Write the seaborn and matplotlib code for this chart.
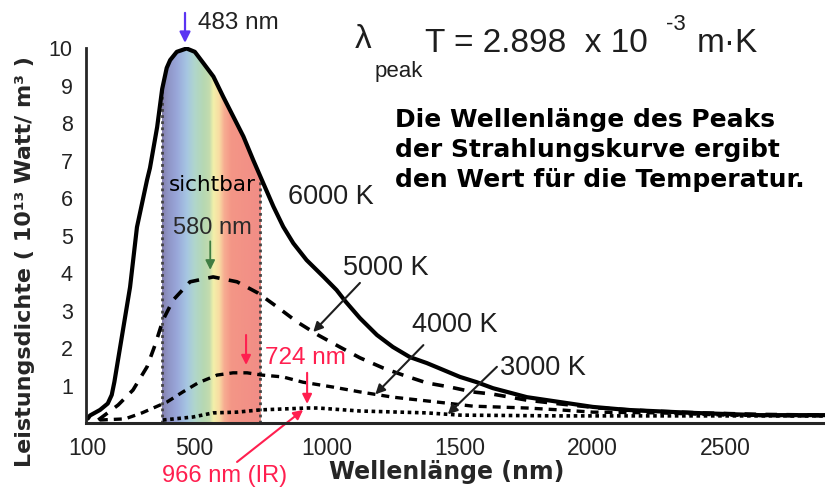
import numpy as np
import pandas as pd
import seaborn as sns
import matplotlib.pyplot as plt
from matplotlib.colors import LinearSegmentedColormap

# values (wavelength in nm, power density in 10^13 W/m^3)
wl_6000 = [100, 108, 146, 175, 190, 200, 259, 285, 323, 334, 361, 380, 397, 410, 435, 472, 503, 535, 573,
           610, 648, 686, 723, 761, 799, 836, 874, 924, 987, 1037, 1070, 1125, 1189, 1249, 1313, 1377,
           1438, 1502, 1565, 1626, 1754, 1878, 2002, 2130, 2379, 2631, 2876]
val_6000 = [0.12, 0.2, 0.35, 0.52, 0.75, 1.1, 3.63, 5.23, 6.49, 6.81, 7.9, 8.92, 9.48, 9.69, 9.91, 10.0,
            9.91, 9.61, 9.25, 8.71, 8.18, 7.65, 7.02, 6.4, 5.78, 5.24, 4.8, 4.35, 3.91, 3.55, 3.25, 2.8,
            2.35, 2.03, 1.76, 1.6, 1.42, 1.23, 1.09, 0.93, 0.69, 0.56, 0.43, 0.35, 0.27, 0.21, 0.21]

wl_5000 = [139, 214, 270, 323, 353, 383, 421, 485, 572, 662, 741, 813, 888, 967, 1049, 1125, 1212, 1287,
           1377, 1464, 1550, 1626, 1754, 1878, 2029, 2217, 2406, 2631, 2876]
val_5000 = [0.08, 0.48, 0.88, 1.5, 2.08, 2.75, 3.28, 3.77, 3.9, 3.77, 3.47, 3.1, 2.7, 2.35, 2.03, 1.74,
            1.47, 1.28, 1.07, 0.96, 0.83, 0.77, 0.61, 0.51, 0.4, 0.32, 0.27, 0.23, 0.21]

wl_4000 = [145, 240, 304, 398, 458, 515, 587, 647, 700, 756, 835, 910, 1023, 1125, 1249, 1351, 1453, 1550,
           1754, 1878, 2002, 2254, 2506, 2755, 2876]
val_4000 = [0.08, 0.11, 0.27, 0.56, 0.83, 1.07, 1.28, 1.34, 1.34, 1.28, 1.23, 1.09, 0.96, 0.83, 0.69, 0.61,
            0.53, 0.45, 0.4, 0.35, 0.29, 0.27, 0.21, 0.19, 0.19]

wl_3000 = [383, 496, 572, 662, 749, 926, 967, 1125, 1377, 1502, 1878, 2631, 2876]
val_3000 = [0.08, 0.16, 0.27, 0.29, 0.35, 0.4, 0.4, 0.32, 0.27, 0.21, 0.19, 0.19, 0.19]

temps = ['6000 K', '5000 K', '4000 K', '3000 K']
x_ticks = [100, 500, 1000, 1500, 2000, 2500]
y_ticks = [1, 2, 3, 4, 5, 6, 7, 8, 9, 10]
visible_range = (380, 750)
peak_6000, peak_5000, peak_4000, peak_3000 = 466, 561, 696, 926

curves = {
    '6000 K': (wl_6000, val_6000),
    '5000 K': (wl_5000, val_5000),
    '4000 K': (wl_4000, val_4000),
    '3000 K': (wl_3000, val_3000),
}
frames = []
for t in temps:
    frames.append(pd.DataFrame({'wl': curves[t][0], 'val': curves[t][1], 'temp': t}))
df = pd.concat(frames, ignore_index=True)

sns.set_style('white')
plt.rcParams['font.family'] = ['Liberation Sans', 'DejaVu Sans']

fig = plt.figure(figsize=(8.25, 4.92), dpi=100)
ax = fig.add_axes([86 / 825, 69 / 492, 739 / 825, 376.4 / 492])

# spectrum band under the 6000 K curve
spec = LinearSegmentedColormap.from_list('spec', [
    (0.00, '#857fae'), (0.06, '#8f95c6'), (0.15, '#99a7da'), (0.25, '#a6c6e2'),
    (0.33, '#b0d6cc'), (0.42, '#b6d8b2'), (0.48, '#c4dcae'), (0.52, '#f2f0aa'),
    (0.58, '#f8dba2'), (0.63, '#f7ad92'), (0.70, '#f49686'), (1.0, '#f18d86')])
grad = np.linspace(0, 1, 256).reshape(1, -1)
im = ax.imshow(grad, cmap=spec, aspect='auto', extent=[visible_range[0], visible_range[1], 0, 10.5],
               zorder=1)
area = ax.fill_between(wl_6000, val_6000, 0, color='none', lw=0)
im.set_clip_path(area.get_paths()[0], transform=ax.transData)
edge_h = np.interp(visible_range, wl_6000, val_6000)
ax.vlines(visible_range, 0, edge_h, colors='#444444', linestyles=(0, (1, 1.2)), lw=2, zorder=2)

styles = {
    '6000 K': dict(lw=3.0, dashes=(None, None)),
    '5000 K': dict(lw=2.6, dashes=(3.2, 2.6)),
    '4000 K': dict(lw=2.4, dashes=(2.4, 1.8)),
    '3000 K': dict(lw=2.6, dashes=(1, 1)),
}
for t in temps:
    sub = df[df['temp'] == t]
    line_kw = {'dashes': styles[t]['dashes']} if t != '6000 K' else {}
    sns.lineplot(data=sub, x='wl', y='val', ax=ax, color='black', lw=styles[t]['lw'],
                 estimator=None, sort=False, zorder=3, **line_kw)

ax.set_xlim(93, 2877)
ax.set_ylim(0, 10.05)
ax.set_xticks(x_ticks)
ax.set_yticks(y_ticks)
ax.tick_params(axis='both', labelcolor='#222222', direction='inout', color='black')
ax.tick_params(axis='y', length=7, width=2.2, pad=6, labelsize=15.5)
ax.tick_params(axis='x', length=6, width=1.2, pad=7, labelsize=16.5)
for s in ['top', 'right']:
    ax.spines[s].set_visible(False)
ax.spines['left'].set_linewidth(2)
ax.spines['left'].set_bounds(0, 10)
ax.spines['bottom'].set_linewidth(2.2)
ax.spines['left'].set_zorder(4)
ax.spines['bottom'].set_zorder(4)

ax.set_xlabel('Wellenlänge (nm)', fontsize=17, fontweight='bold', family='DejaVu Sans')
ax.set_ylabel('Leistungsdichte ( 10¹³ Watt/ m³ )', fontsize=16, fontweight='bold', family='DejaVu Sans')
ax.xaxis.set_label_coords(0.488, -0.098)
ax.yaxis.set_label_coords(-0.069, 0.43)

# curve labels with leader arrows
lab_kw = dict(fontsize=19.5, color='#1e1e1e', va='center', ha='left')
ax.text(855, 6.03, '6000 K', **lab_kw)
ax.text(1062, 4.14, '5000 K', **lab_kw)
ax.text(1321, 2.62, '4000 K', **lab_kw)
ax.text(1652, 1.47, '3000 K', **lab_kw)
leader = dict(arrowstyle='-|>', color='#1e1e1e', lw=1.5, mutation_scale=14, shrinkA=0, shrinkB=0)
ax.annotate('', xy=(949, np.interp(949, wl_5000, val_5000)), xytext=(1125, 3.74), arrowprops=leader)
ax.annotate('', xy=(1183, np.interp(1183, wl_4000, val_4000)), xytext=(1364, 2.08), arrowprops=leader)
ax.annotate('', xy=(1456, np.interp(1456, wl_3000, val_3000)), xytext=(1641, 1.5), arrowprops=leader)

# peak markers
ax.annotate('', xy=(peak_6000, 10.15), xytext=(peak_6000, 10.95), annotation_clip=False,
            arrowprops=dict(arrowstyle='-|>', color='#5a34f2', lw=1.6, mutation_scale=16,
                            shrinkA=0, shrinkB=0))
ax.text(515, 10.68, '483 nm', fontsize=17.5, color='#222222', va='center', ha='left', clip_on=False)

ax.annotate('', xy=(peak_5000, 4.09), xytext=(peak_5000, 4.85),
            arrowprops=dict(arrowstyle='-|>', color='#3f7d42', lw=1.3, mutation_scale=14,
                            shrinkA=0, shrinkB=0))
ax.text(569, 5.21, '580 nm', fontsize=17, color='#2a2a2a', va='center', ha='center', zorder=5)
ax.text(569, 6.36, 'sichtbar', fontsize=15.5, color='black', va='center', ha='center',
        family='DejaVu Sans', zorder=5)

red = '#ff1f4f'
red_arrow = dict(arrowstyle='-|>', color=red, lw=1.5, mutation_scale=14, shrinkA=0, shrinkB=0)
ax.annotate('', xy=(peak_4000, 1.55), xytext=(peak_4000, 2.35), arrowprops=red_arrow)
ax.text(768, 1.74, '724 nm', fontsize=17.5, color=red, va='center', ha='left')
ax.annotate('', xy=(peak_3000, 0.51), xytext=(peak_3000, 1.34), arrowprops=red_arrow)
ax.annotate('', xy=(911, 0.35), xytext=(662, -1.04), annotation_clip=False, arrowprops=red_arrow)
ax.text(380, -1.42, '966 nm (IR)', fontsize=17, color=red, va='center', ha='left', clip_on=False)

# Wien formula and note
W, H = 825, 492
fc = '#1e1e1e'
fig.text(355 / W, 1 - 40 / H, 'λ', fontsize=24, color=fc, va='center', ha='left')
fig.text(375 / W, 1 - 71 / H, 'peak', fontsize=16, color=fc, va='center', ha='left')
fig.text(425 / W, 1 - 43 / H, 'T = 2.898  x 10', fontsize=24, color=fc, va='center', ha='left')
fig.text(666 / W, 1 - 25 / H, '-3', fontsize=16, color=fc, va='center', ha='left')
fig.text(697 / W, 1 - 43 / H, 'm·K', fontsize=24, color=fc, va='center', ha='left')
fig.text(395 / W, 1 - 150 / H,
         'Die Wellenlänge des Peaks\nder Strahlungskurve ergibt\nden Wert für die Temperatur.',
         fontsize=18, fontweight='bold', family='DejaVu Sans', color='black', va='center', ha='left',
         linespacing=1.3)

plt.savefig('out.png', dpi=100)
